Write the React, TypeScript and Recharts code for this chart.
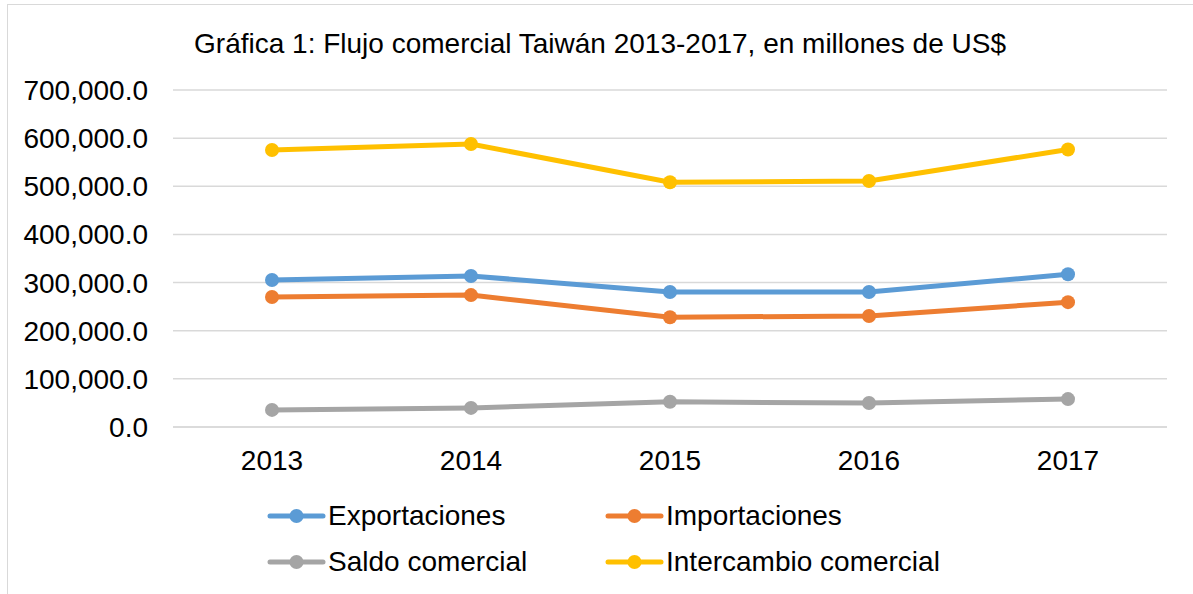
import React from 'react';
import { LineChart, Line, XAxis, YAxis, CartesianGrid, Legend } from 'recharts';

// valores (millones de US$)
const years = ['2013', '2014', '2015', '2016', '2017'];
const exportaciones = [305400, 313700, 280400, 280300, 317200];
const importaciones = [269900, 274000, 228100, 230600, 259300];
const saldo = [35500, 39700, 52300, 49800, 58000];
const intercambio = [575300, 587700, 508500, 510900, 576500];
const yTicks = [0, 100000, 200000, 300000, 400000, 500000, 600000, 700000];

const series = [
  { key: 'exp', name: 'Exportaciones', color: '#5B9BD5' },
  { key: 'imp', name: 'Importaciones', color: '#ED7D31' },
  { key: 'saldo', name: 'Saldo comercial', color: '#A5A5A5' },
  { key: 'inter', name: 'Intercambio comercial', color: '#FFC000' },
];

const data = years.map((y, i) => ({
  year: y,
  exp: exportaciones[i],
  imp: importaciones[i],
  saldo: saldo[i],
  inter: intercambio[i],
}));

const font = 'Arial, "Liberation Sans", Helvetica, sans-serif';

const fmt = (v: number) => v.toLocaleString('en-US', { minimumFractionDigits: 1, maximumFractionDigits: 1 });

const LegendBox = () => (
  <div style={{ position: 'relative', width: 1193, height: 90, fontFamily: font }}>
    {series.map((s, i) => (
      <div
        key={s.key}
        style={{
          position: 'absolute',
          left: i % 2 ? 605 : 267,
          top: i < 2 ? 0 : 46,
          height: 40,
          display: 'flex',
          alignItems: 'center',
          whiteSpace: 'nowrap',
        }}
      >
        <svg width={59} height={16}>
          <line x1={3} y1={8} x2={56} y2={8} stroke={s.color} strokeWidth={5} strokeLinecap="round" />
          <circle cx={29.5} cy={8} r={7} fill={s.color} />
        </svg>
        <span style={{ marginLeft: 2, fontSize: 28, color: '#000' }}>{s.name}</span>
      </div>
    ))}
  </div>
);

export default function App() {
  return (
    <div style={{ position: 'absolute', left: 0, top: 0, width: 1193, height: 594, overflow: 'hidden', background: '#fff' }}>
      <div
        style={{
          position: 'absolute',
          left: 7,
          top: 4,
          width: 1220,
          height: 620,
          border: '1px solid #d9d9d9',
        }}
      />
      <div
        style={{
          position: 'absolute',
          left: 0,
          top: 26,
          width: 1200,
          textAlign: 'center',
          fontFamily: font,
          fontSize: 28,
          color: '#000',
          lineHeight: '36px',
        }}
      >
        Gráfica 1: Flujo comercial Taiwán 2013-2017, en millones de US$
      </div>
      <div style={{ position: 'absolute', left: 0, top: 0 }}>
        <LineChart width={1193} height={594} data={data} margin={{ top: 90, right: 26, bottom: 0, left: 23 }}>
          <CartesianGrid vertical={false} stroke="#d9d9d9" strokeWidth={1.5} />
          <XAxis
            dataKey="year"
            padding={{ left: 99, right: 99 }}
            axisLine={{ stroke: '#d9d9d9', strokeWidth: 1.5 }}
            tickLine={false}
            tickSize={20}
            tickMargin={3}
            height={167}
            tick={{ fill: '#000', fontSize: 28, fontFamily: font }}
          />
          <YAxis
            domain={[0, 700000]}
            ticks={yTicks}
            tickFormatter={fmt}
            axisLine={false}
            tickLine={false}
            width={150}
            tickSize={22}
            tickMargin={3}
            tick={{ fill: '#000', fontSize: 28, fontFamily: font }}
          />
          <Legend
            layout="horizontal"
            verticalAlign="middle"
            align="center"
            content={() => <LegendBox />}
            wrapperStyle={{ left: 0, top: 496, width: 1193 }}
          />
          {series.map((s) => (
            <Line
              key={s.key}
              dataKey={s.key}
              name={s.name}
              stroke={s.color}
              strokeWidth={5}
              type="linear"
              dot={{ r: 7, fill: s.color, stroke: 'none' }}
              activeDot={false}
              isAnimationActive={false}
            />
          ))}
        </LineChart>
      </div>
    </div>
  );
}
